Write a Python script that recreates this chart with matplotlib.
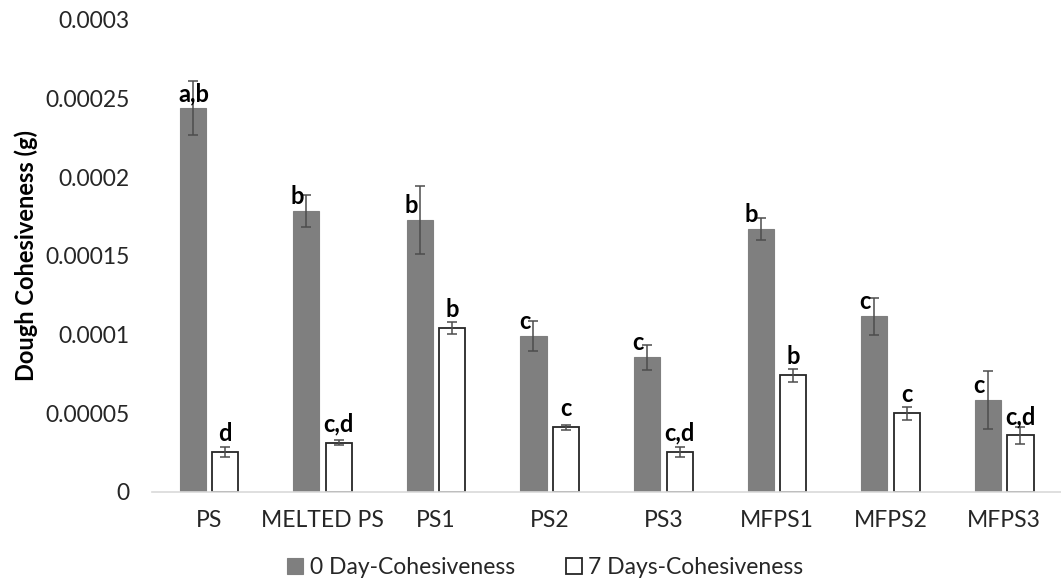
import matplotlib.pyplot as plt
import numpy as np

# Dough cohesiveness (g) at day 0 and after 7 days, mean and std
samples = ['PS', 'MELTED PS', 'PS1', 'PS2', 'PS3', 'MFPS1', 'MFPS2', 'MFPS3']
day0 = [0.000244, 0.0001785, 0.0001728, 0.0000994, 0.0000855, 0.0001673, 0.0001117, 0.0000582]
day0_err = [0.000017, 0.0000102, 0.0000217, 0.0000095, 0.0000079, 0.000007, 0.0000117, 0.0000184]
day7 = [0.0000257, 0.0000314, 0.0001043, 0.000041, 0.0000255, 0.0000741, 0.0000499, 0.0000361]
day7_err = [0.0000032, 0.0000018, 0.0000036, 0.0000015, 0.0000034, 0.000004, 0.0000041, 0.0000055]
day0_letters = ['a,b', 'b', 'b', 'c', 'c', 'b', 'c', 'c']
day7_letters = ['d', 'c,d', 'b', 'c', 'c,d', 'b', 'c', 'c,d']

plt.rcParams['font.family'] = ['Lato', 'DejaVu Sans']

fig = plt.figure(figsize=(10.61, 5.83), dpi=100)
ax = fig.add_axes([0.1433, 0.1561, 0.8567, 0.8096])

x = np.arange(len(samples))
w = 0.23
off = 0.143

b0 = ax.bar(x - off, day0, w, color='#7f7f7f', edgecolor='#7f7f7f', linewidth=0.8,
            label='0 Day-Cohesiveness')
b7 = ax.bar(x + off, day7, w, color='white', edgecolor='#262626', linewidth=1.3,
            label='7 Days-Cohesiveness')
ax.errorbar(x - off, day0, yerr=day0_err, fmt='none', ecolor='#4d4d4d',
            elinewidth=1.1, capsize=3.5, capthick=1.1)
ax.errorbar(x + off, day7, yerr=day7_err, fmt='none', ecolor='#4d4d4d',
            elinewidth=1.1, capsize=3.5, capthick=1.1)

# significance letters above the bars
for i in range(len(samples)):
    dx = 1 if day0_letters[i] == 'a,b' else -9
    ax.annotate(day0_letters[i], (x[i] - off, day0[i]), xytext=(dx, 3),
                textcoords='offset pixels', ha='center', va='bottom',
                fontsize=17, fontweight='bold')
    ax.annotate(day7_letters[i], (x[i] + off, day7[i]), xytext=(0, 7),
                textcoords='offset pixels', ha='center', va='bottom',
                fontsize=17, fontweight='bold')

ax.set_xlim(-0.5, len(samples) - 0.5)
ax.set_ylim(0, 0.0003)
ax.set_yticks([0, 0.00005, 0.0001, 0.00015, 0.0002, 0.00025, 0.0003])
ax.set_yticklabels(['0', '0.00005', '0.0001', '0.00015', '0.0002', '0.00025', '0.0003'])
ax.set_xticks(x)
ax.set_xticklabels(samples)
ax.tick_params(axis='both', length=0, labelsize=16.5, colors='#262626')
ax.tick_params(axis='y', pad=16)
ax.tick_params(axis='x', pad=13)

for s in ['top', 'right', 'left']:
    ax.spines[s].set_visible(False)
ax.spines['bottom'].set_color('#d9d9d9')
ax.spines['bottom'].set_linewidth(1.2)

ax.set_ylabel('Dough Cohesiveness (g)', fontsize=17, fontweight='bold')
ax.yaxis.set_label_coords(-0.126, 0.5)

fig.legend(handles=[b0, b7], loc='center', bbox_to_anchor=(0.514, 0.027), ncol=2,
           frameon=False, fontsize=16.5, handlelength=0.7, handleheight=0.7,
           handletextpad=0.3, columnspacing=2.2, labelcolor='#262626')

fig.savefig('out.png', dpi=100)
